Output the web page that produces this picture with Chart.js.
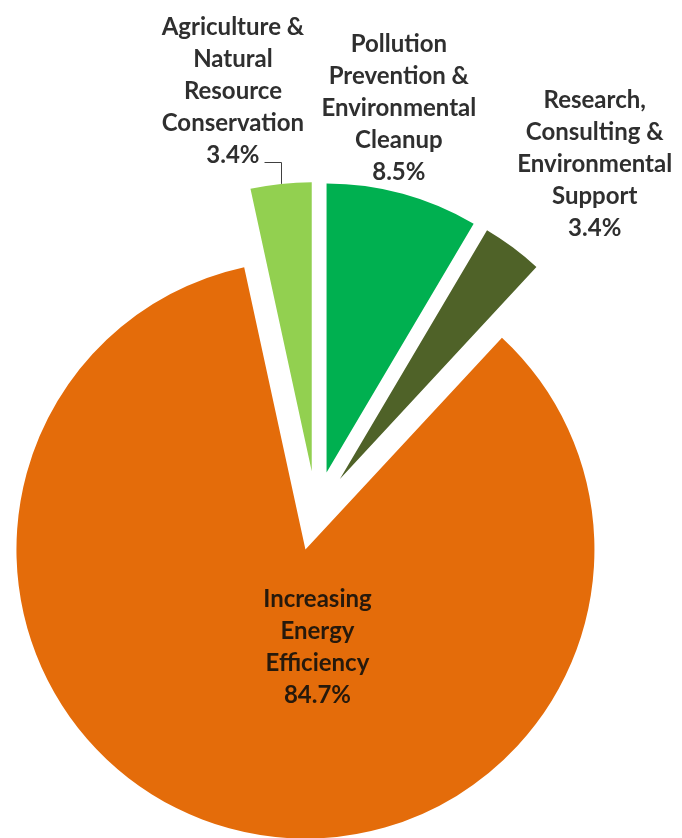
<!DOCTYPE html>
<html>
<head>
<meta charset="utf-8">
<script src="https://cdn.jsdelivr.net/npm/chart.js@4"></script>
<style>
    html, body { margin: 0; padding: 0; background: #ffffff; }
</style>
</head>
<body>
<canvas id="chart" width="682" height="838"></canvas>
<script>
// slices, clockwise from 12 o'clock
const categories = [
    ["Pollution", "Prevention &", "Environmental", "Cleanup"],
    ["Research,", "Consulting &", "Environmental", "Support"],
    ["Increasing", "Energy", "Efficiency"],
    ["Agriculture &", "Natural", "Resource", "Conservation"]
];
const shares = [8.5, 3.4, 84.7, 3.4];
const percentLabels = ["8.5%", "3.4%", "84.7%", "3.4%"];

const sliceColors = ["#00B050", "#4F6228", "#E46C0A", "#92D050"];

// how far every slice is pulled out of the pie (px)
const explode = 40;

// label placement: outside labels are set relative to the slice's outer edge
// (dx, dy = centre of the last line), the inside one relative to the slice centre
const placement = [
    { inside: false, dx: -4, dy: -21 },
    { inside: false, dx: 82, dy: -19 },
    { inside: true, dx: 12, dy: 98 },
    { inside: false, dx: -48, dy: -29, leader: true }
];
const lineHeight = 32;

const sliceLabels = {
    id: "sliceLabels",
    afterDatasetUpdate(chart, args) {
        args.meta.data.forEach(arc => {
            const mid = (arc.startAngle + arc.endAngle) / 2;
            arc.x += Math.cos(mid) * explode;
            arc.y += Math.sin(mid) * explode;
        });
    },
    afterDatasetsDraw(chart) {
        const ctx = chart.ctx;
        const arcs = chart.getDatasetMeta(0).data;
        ctx.save();
        ctx.font = "bold 24px Lato";
        ctx.textAlign = "center";
        ctx.textBaseline = "middle";

        arcs.forEach((arc, i) => {
            const mid = (arc.startAngle + arc.endAngle) / 2;
            const p = placement[i];
            const lines = categories[i].concat(percentLabels[i]);
            let cx, lastY;
            if (p.inside) {
                cx = arc.x + p.dx;
                lastY = arc.y + p.dy + (lines.length - 1) * lineHeight / 2;
                ctx.fillStyle = "#26190c";
            } else {
                const ax = arc.x + Math.cos(mid) * arc.outerRadius;
                const ay = arc.y + Math.sin(mid) * arc.outerRadius;
                cx = ax + p.dx;
                lastY = ay + p.dy;
                ctx.fillStyle = "#2f2f2f";
                if (p.leader) {
                    const w = ctx.measureText(percentLabels[i]).width;
                    ctx.strokeStyle = "#404040";
                    ctx.lineWidth = 1;
                    ctx.beginPath();
                    ctx.moveTo(Math.round(ax) + 0.5, ay);
                    ctx.lineTo(Math.round(ax) + 0.5, Math.round(lastY + 7) + 0.5);
                    ctx.lineTo(cx + w / 2 + 5, Math.round(lastY + 7) + 0.5);
                    ctx.stroke();
                }
            }
            lines.forEach((t, k) => {
                ctx.fillText(t, cx, lastY - (lines.length - 1 - k) * lineHeight);
            });
        });
        ctx.restore();
    }
};

new Chart("chart", {
    type: "pie",
    data: {
        labels: categories.map(c => c.join(" ")),
        datasets: [{
            data: shares,
            backgroundColor: sliceColors,
            borderWidth: 0,
            clip: false
        }]
    },
    options: {
        responsive: false,
        animation: false,
        events: [],
        radius: 289,
        layout: { padding: { left: 0, right: 50, top: 184, bottom: 0 } },
        plugins: {
            legend: { display: false },
            tooltip: { enabled: false }
        }
    },
    plugins: [sliceLabels]
});
</script>
</body>
</html>
